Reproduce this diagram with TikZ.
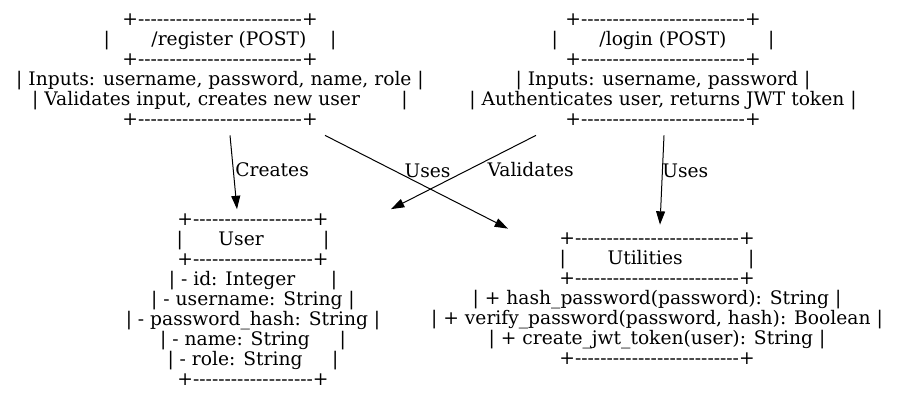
\documentclass[tikz,border=0pt]{standalone}
\usepackage{fontspec}
\setmainfont{DejaVu Serif}
\usetikzlibrary{arrows.meta,calc}

% rows of hyphens and runs of blanks for the ascii boxes
\newcommand{\dashrow}[1]{\foreach \k in {1,...,#1}{-}}
\newcommand{\gap}[1]{\hspace*{#1\fontdimen2\font}}

\begin{document}
\begin{tikzpicture}[x=0.75pt, y=-0.75pt, line width=0.75pt,
    >={Triangle[length=10pt,width=6.7pt]},
    every node/.style={font=\fontsize{14pt}{15pt}\selectfont},
    card/.style={align=center, inner sep=0pt},
    lbl/.style={inner sep=1pt}]

  \useasboundingbox (0,0) rectangle (899,400);

  %--- Endpoints ------------------------------------------------------------
  \node[card] (register) at (220,70) {%
    +\dashrow{26}+\\
    |\gap{7}/register (POST)\gap{4}|\\
    +\dashrow{26}+\\
    | Inputs: username, password, name, role |\\
    | Validates input, creates new user\gap{7}|\\
    +\dashrow{26}+};

  \node[card] (login) at (663,70) {%
    +\dashrow{26}+\\
    |\gap{7}/login (POST)\gap{7}|\\
    +\dashrow{26}+\\
    | Inputs: username, password |\\
    | Authenticates user, returns JWT token |\\
    +\dashrow{26}+};

  %--- Model and helpers ----------------------------------------------------
  \node[card] (user) at (253,299.5) {%
    +\dashrow{19}+\\
    |\gap{6}User\gap{10}|\\
    +\dashrow{19}+\\
    | - id: Integer\gap{6}|\\
    | - username: String |\\
    | - password\_hash: String |\\
    | - name: String\gap{5}|\\
    | - role: String\gap{5}|\\
    +\dashrow{19}+};

  \node[card] (utils) at (657,299) {%
    +\dashrow{26}+\\
    |\gap{7}Utilities\gap{11}|\\
    +\dashrow{26}+\\
    | + hash\_password(password): String |\\
    | + verify\_password(password, hash): Boolean |\\
    | + create\_jwt\_token(user): String |\\
    +\dashrow{26}+};

  %--- Relations ------------------------------------------------------------
  \draw[->] ($(register.south)+(10,9)$) -- ($(user.north)+(-16,-4)$)
        node[lbl, pos=0.5, anchor=west, yshift=2pt] {Creates};
  \draw[->] ($(register.south)+(105,9)$) -- ($(utils.north)+(-149,-4)$)
        node[lbl, pos=0.37, anchor=west, xshift=7.5pt, yshift=-1pt] {Uses};
  \draw[->] ($(login.south)+(-127,9)$) -- ($(user.north)+(138,-4)$)
        node[lbl, pos=0.42, anchor=west, xshift=8pt, yshift=-2.5pt] {Validates};
  \draw[->] ($(login.south)+(1,9)$) -- ($(utils.north)+(3,-8)$)
        node[lbl, pos=0.38, anchor=west, xshift=-1.5pt, yshift=-1pt] {Uses};

\end{tikzpicture}
\end{document}
